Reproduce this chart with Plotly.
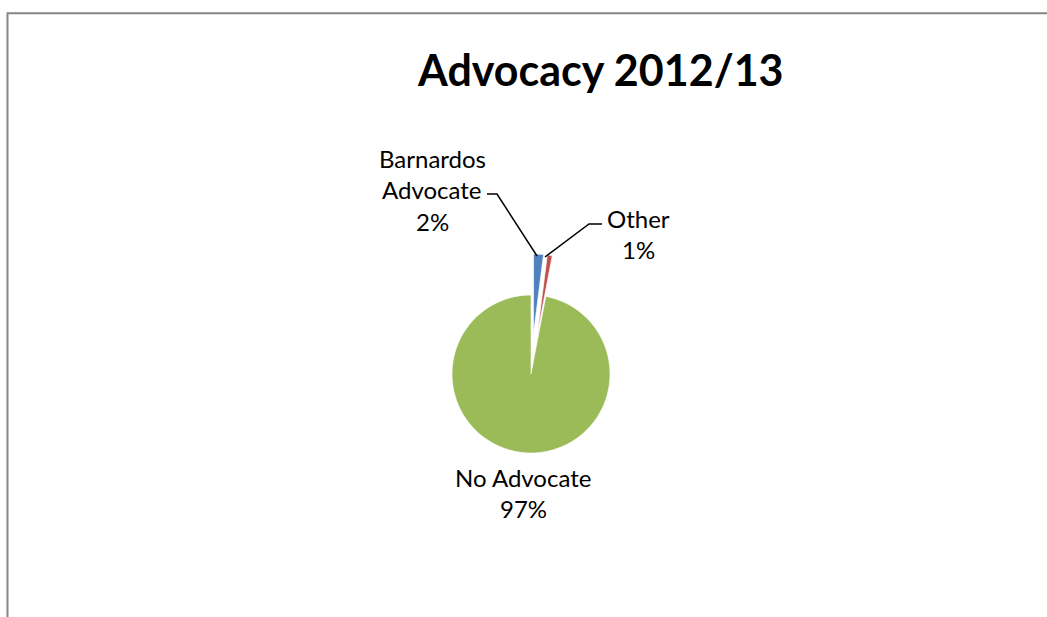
import plotly.graph_objects as go

W, H = 1047, 617

# Chart data
title = "Advocacy 2012/13"
categories = ["Barnardos Advocate", "Other", "No Advocate"]
label_lines = [["Barnardos", "Advocate"], ["Other"], ["No Advocate"]]
values = [2, 1, 97]
colors = ["#4F81BD", "#C0504D", "#9BBB59"]
pulls = [0.52, 0.52, 0.0]

FONT = "Lato"


def fx(x):
    return x / W


def fy(y):
    return 1 - y / H


# pie geometry (pixels): centre and radius of the unexploded pie
cx, cy, r = 531, 374, 79
half = r * (1 + max(pulls))

fig = go.Figure(
    go.Pie(
        labels=categories,
        values=values,
        marker=dict(colors=colors, line=dict(color="white", width=0.6)),
        pull=pulls,
        sort=False,
        direction="clockwise",
        rotation=0,
        textinfo="none",
        hoverinfo="label+percent",
        showlegend=False,
        domain=dict(x=[fx(cx - half), fx(cx + half)], y=[fy(cy + half), fy(cy - half)]),
    )
)

total = sum(values)
pct_text = [f"{round(v / total * 100)}%" for v in values]

# label block placement: centre x and y of first line, line step
label_pos = [(432, 158), (638, 218), (523, 477)]
line_step = 31.5

annotations = [
    dict(
        text=f"<b>{title}</b>", x=fx(600), y=fy(70), xref="paper", yref="paper",
        showarrow=False, xanchor="center", yanchor="middle",
        font=dict(family=FONT, size=43, color="black"),
    )
]
for lines, pct, (lx, ly) in zip(label_lines, pct_text, label_pos):
    for i, t in enumerate(lines + [pct]):
        annotations.append(dict(
            text=t, x=fx(lx), y=fy(ly + i * line_step), xref="paper", yref="paper",
            showarrow=False, xanchor="center", yanchor="middle",
            font=dict(family=FONT, size=24, color="black"),
        ))

# leader lines from the labels to the exploded slices
leaders = [
    [(487, 194), (497, 194), (537, 256)],
    [(602, 224), (589, 224), (545, 257)],
]
shapes = []
for pts in leaders:
    path = "M " + " L ".join(f"{fx(x)},{fy(y)}" for x, y in pts)
    shapes.append(dict(type="path", path=path, xref="paper", yref="paper",
                       line=dict(color="black", width=1.5)))

# chart-area frame
shapes.append(dict(type="rect", xref="paper", yref="paper",
                   x0=fx(7.5), y0=fy(13.3), x1=1.02, y1=-0.02,
                   line=dict(color="#868686", width=2), fillcolor="rgba(0,0,0,0)"))

fig.update_layout(
    width=W, height=H,
    margin=dict(l=0, r=0, t=0, b=0),
    paper_bgcolor="white",
    plot_bgcolor="white",
    annotations=annotations,
    shapes=shapes,
)

fig.write_html("out.html")
